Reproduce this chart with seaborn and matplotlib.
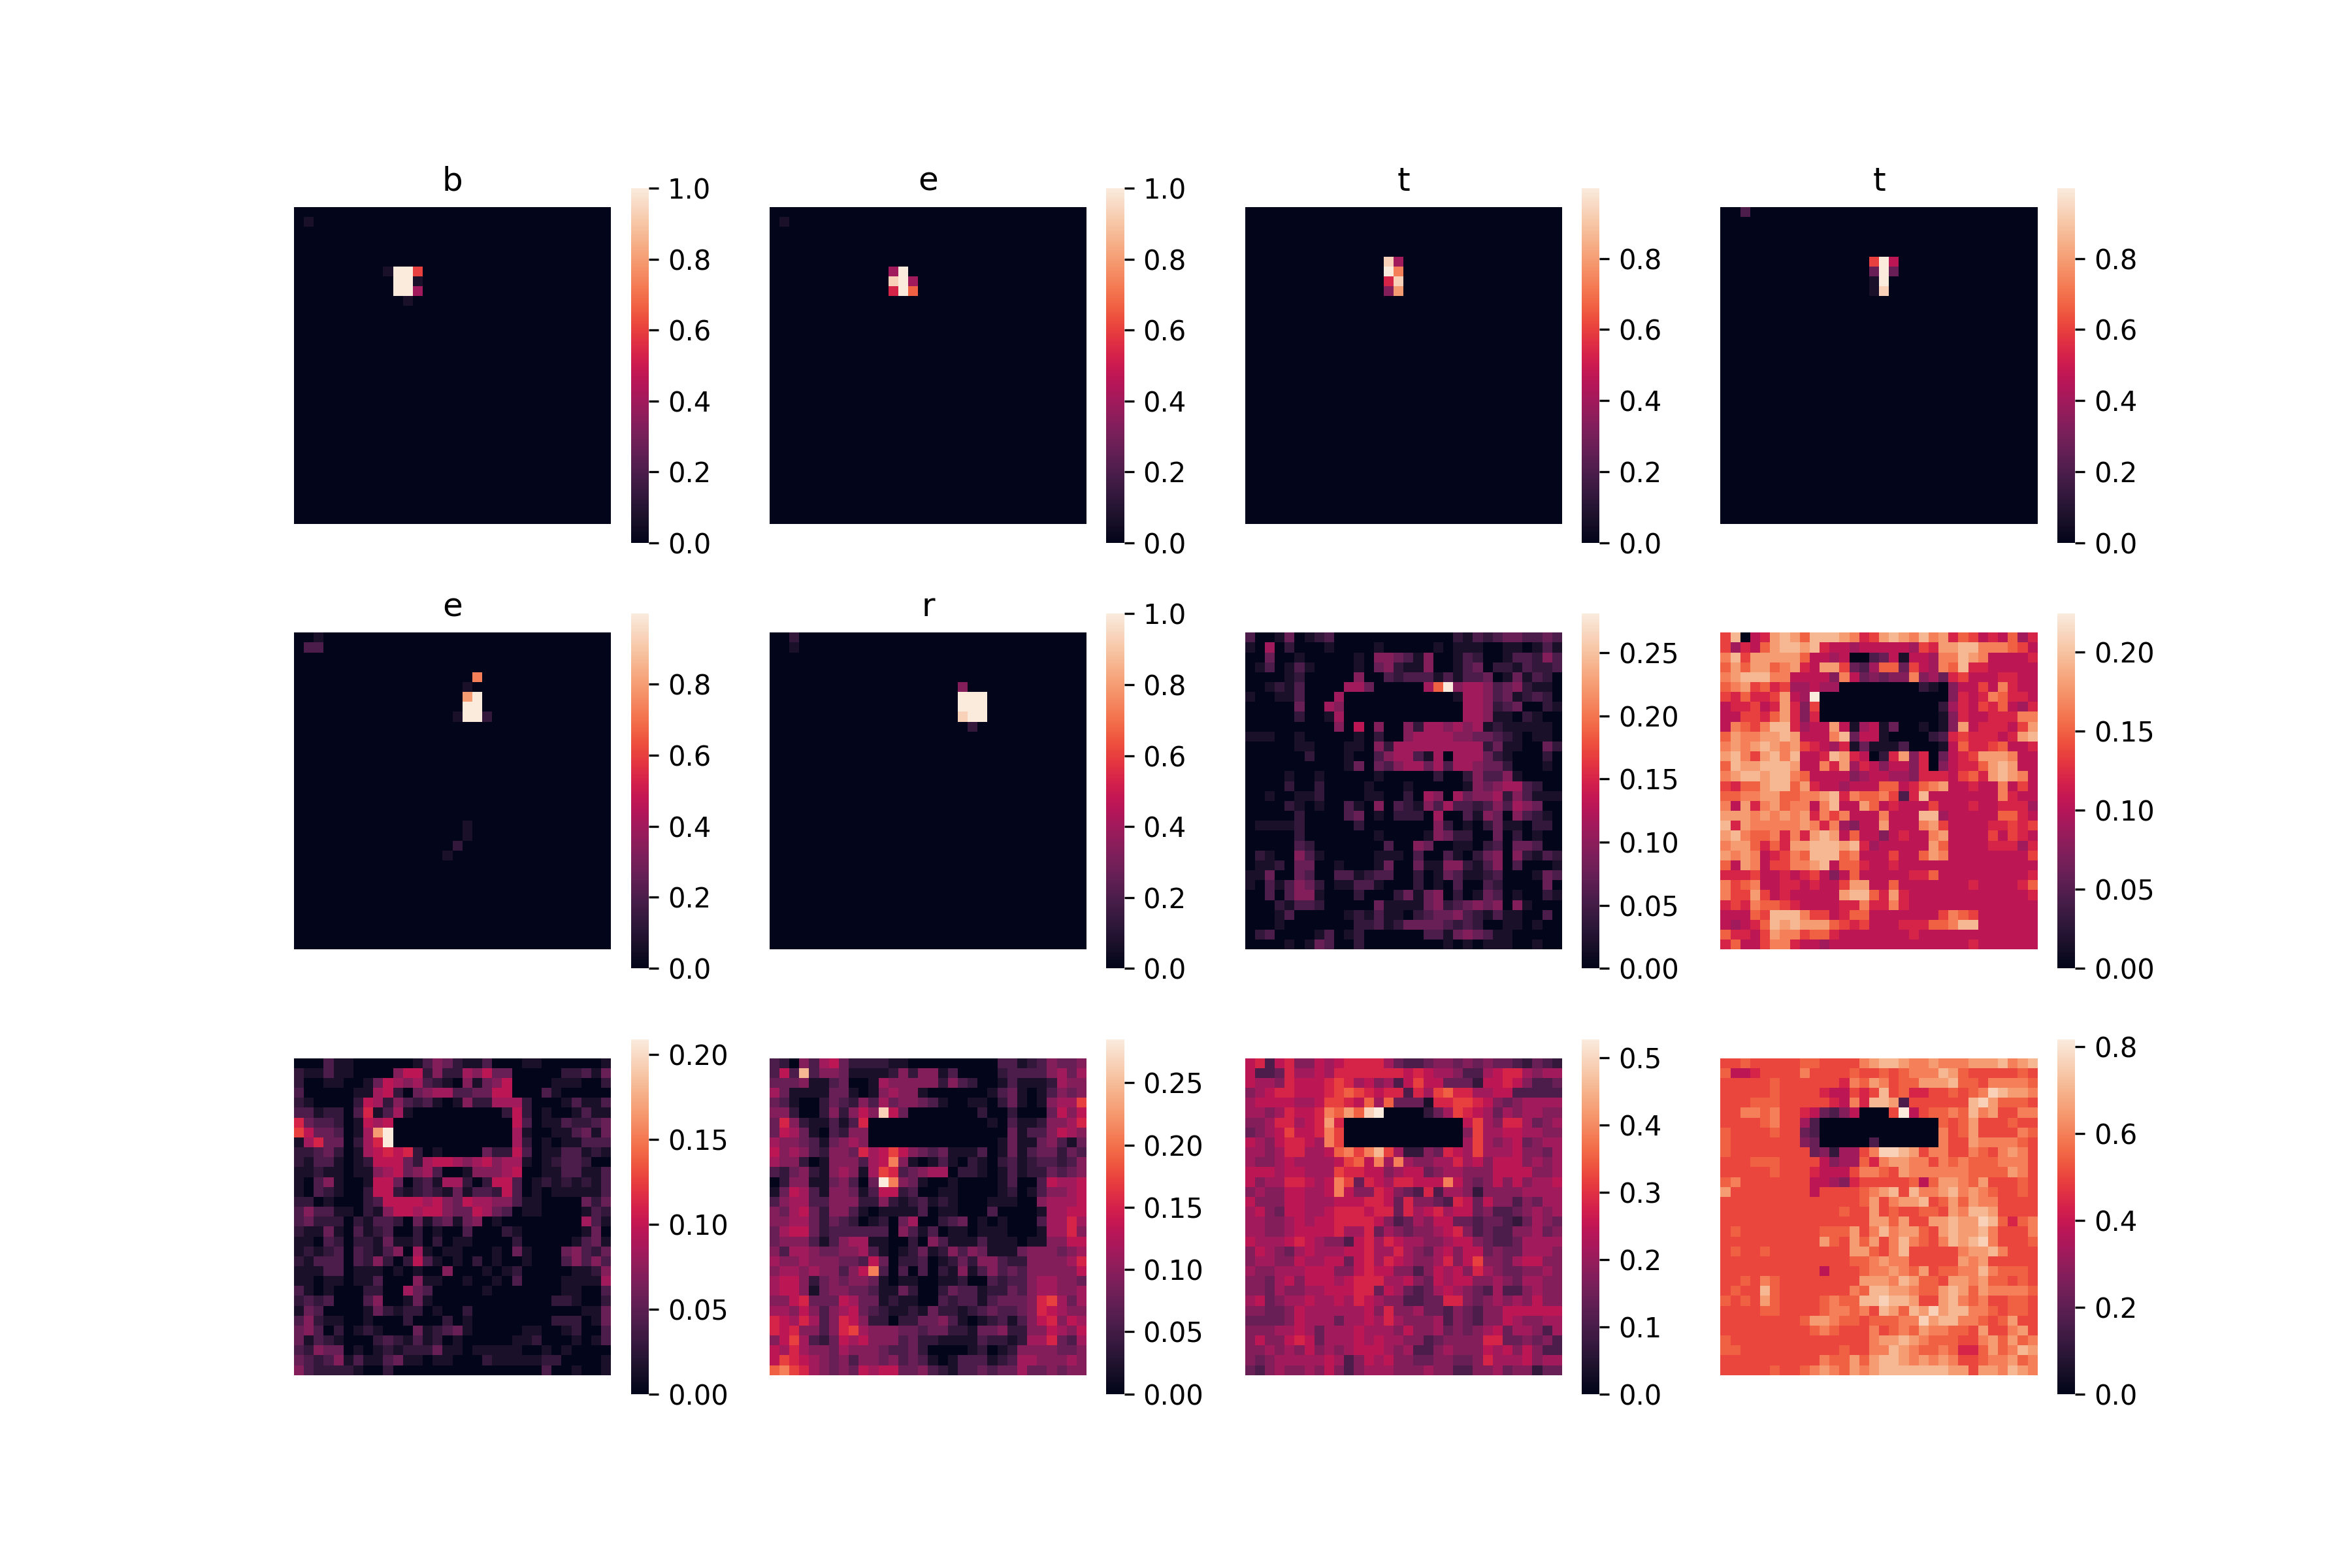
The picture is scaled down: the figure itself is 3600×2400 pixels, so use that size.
import matplotlib
matplotlib.use('Agg')
import matplotlib.pyplot as plt
import numpy as np
import seaborn as sns

# each map is 32x32. one hex digit per cell, 0 to f, as a share of that map's peak
blank = '0000 0000 0000 0000 0000 0000 0000 0000'

map_1 = [blank] + ['0100 0000 0000 0000 0000 0000 0000 0000'] + [blank] * 4 + [
    '0000 0000 01ff 9000 0000 0000 0000 0000',
    '0000 0000 00ff 1000 0000 0000 0000 0000',
    '0000 0000 00ff 6000 0000 0000 0000 0000',
    '0000 0000 0001 0000 0000 0000 0000 0000',
] + [blank] * 22

map_2 = [blank] + ['0100 0000 0000 0000 0000 0000 0000 0000'] + [blank] * 4 + [
    '0000 0000 0000 6f00 0000 0000 0000 0000',
    '0000 0000 0000 ef60 0000 0000 0000 0000',
    '0000 0000 0000 8fa0 0000 0000 0000 0000',
] + [blank] * 23

map_3 = [blank] * 5 + [
    '0000 0000 0000 00e6 0000 0000 0000 0000',
    '0000 0000 0000 00fb 0000 0000 0000 0000',
    '0000 0000 0000 008e 0000 0000 0000 0000',
    '0000 0000 0000 005c 0000 0000 0000 0000',
] + [blank] * 23

map_4 = ['0030 0000 0000 0000 0000 0000 0000 0000'] + [blank] * 4 + [
    '0000 0000 0000 0009 f700 0000 0000 0000',
    '0000 0000 0000 0004 f400 0000 0000 0000',
    '0000 0000 0000 0001 f000 0000 0000 0000',
    '0000 0000 0000 0001 e000 0000 0000 0000',
] + [blank] * 23

map_5 = [
    '0010 0000 0000 0000 0000 0000 0000 0000',
    '0330 0000 0000 0000 0000 0000 0000 0000',
] + [blank] * 2 + [
    '0000 0000 0000 0000 00b0 0000 0000 0000',
    '0000 0000 0000 0000 0100 0000 0000 0000',
    '0000 0000 0000 0000 0cf0 0000 0000 0000',
    '0000 0000 0000 0000 0ff0 0000 0000 0000',
    '0000 0000 0000 0000 1ff2 0000 0000 0000',
] + [blank] * 10 + [
    '0000 0000 0000 0000 0100 0000 0000 0000',
    '0000 0000 0000 0000 0100 0000 0000 0000',
    '0000 0000 0000 0000 2000 0000 0000 0000',
    '0000 0000 0000 0001 0000 0000 0000 0000',
] + [blank] * 9

map_6 = [
    '0020 0000 0000 0000 0000 0000 0000 0000',
    '0010 0000 0000 0000 0000 0000 0000 0000',
] + [blank] * 3 + [
    '0000 0000 0000 0000 0005 0000 0000 0000',
    '0000 0000 0000 0000 000f ff00 0000 0000',
    '0000 0000 0000 0000 000f ff00 0000 0000',
    '0000 0000 0000 0000 000e ff00 0000 0000',
    '0000 0000 0000 0000 0000 2000 0000 0000',
] + [blank] * 22

map_7 = [
    '3001 4012 3000 0000 0000 0213 2344 3343',
    '1060 2000 1000 0100 0001 0111 0011 0131',
    '0040 0100 0001 0554 3150 0132 0013 3253',
    '0130 1310 0001 0452 1150 0134 0221 3223',
    '0000 1200 0005 0032 3331 3133 4014 1320',
    '0012 1300 0066 4000 006a f566 5345 2110',
    '1001 1300 0600 0000 0000 0166 5341 2320',
    '0000 0400 6500 0000 0000 0066 5234 0021',
    '0000 0200 1600 0000 0000 0066 5110 2100',
    '0000 0000 0507 0500 5266 5656 1211 1110',
    '1110 0100 0001 0200 5666 6554 4321 0110',
    '0000 0110 0011 0526 6666 6666 2411 0042',
    '0000 0020 0010 0356 6316 0666 4210 0020',
    '0000 0000 0014 0435 6646 3665 4420 0010',
    '0000 1001 0000 0100 0002 0025 3351 0000',
    '0000 2002 0000 1000 1000 0015 4566 3200',
    '0010 0112 0000 1100 2065 0645 5625 3111',
    '0000 2101 0031 0503 2153 6332 3536 5400',
    '0000 0200 0034 0102 2206 0031 5405 3210',
    '0111 1200 0002 0000 0005 2010 2411 0220',
    '0000 0200 0000 0100 0015 4220 0402 0100',
    '0000 0320 0000 0030 0540 0110 2304 4300',
    '0210 0531 0000 0111 0300 3102 4505 2132',
    '0112 0440 0100 0140 0411 5521 3503 0001',
    '1140 0430 0331 2330 0201 4311 2300 0143',
    '1031 3542 0113 3100 0201 0300 3200 0040',
    '0030 3551 0002 0002 4145 0201 4301 0021',
    '0002 1332 0000 0411 1145 2345 4505 1000',
    '0001 3000 0012 1311 0234 4532 1311 0030',
    '0001 0000 0002 2312 4444 3232 0011 0100',
    '0230 0001 3012 0000 0033 1454 3110 0000',
    '0000 1014 3002 0000 0000 1010 1110 0100',
]

map_8 = [
    '9d07 8cdc addd cb89 cdcb dbc8 a978 7a68',
    '9687 acdd cd87 7677 7776 98cc ddbb ba97',
    'bd9c cccc a776 7003 4717 76bb dcb7 7778',
    'acac cabc 87cc 9436 aa49 76ba d887 7777',
    'bcdd dbb7 7775 b745 455b 5648 9777 8877',
    'abc9 a896 6766 0000 0000 2105 7797 b877',
    '98a8 89c7 6f00 0000 0000 0005 878b a887',
    '7889 78c8 5900 0000 0000 0026 8798 a768',
    '7799 8ac8 5800 0000 0000 0015 8778 88bb',
    '7ba9 bdd8 677c 7167 1400 1015 c788 879c',
    'acbb ccdc 777b d477 1000 0238 9888 78cd',
    'bcbc dcbc 9876 8141 1130 0017 a889 a778',
    'cdb9 cdbd 778d c870 28c5 8047 89cc cb77',
    'adcc dddc 77b8 c687 5775 8057 88ac dc77',
    'bcdd cddb a777 7567 7665 8887 9a8c dcb7',
    '98aa cdda c877 6777 aa78 abc7 7877 b797',
    'aabb ccaa bbcd 8baa b938 d777 7777 b877',
    'b7c8 bcab b7bd 77ca 7877 7977 7877 8886',
    'cccb cbcb c8b9 b777 b777 dd67 7777 aa87',
    'd8cb bbbb cb8b 6577 c777 bc97 7778 8989',
    'cdba ab8b 8cdc 7a77 5787 7bc7 7779 7987',
    'bcca 8a8c cddd cd86 7777 7ca7 7778 8868',
    'cbcb 789b addd ab77 7977 acb7 7777 7779',
    'a7cb 799b bcd7 aa87 7877 7777 7777 7777',
    '8889 7787 8975 7a77 7778 8a77 7777 7778',
    'b9ab 7788 7877 9cc7 7a77 7777 7877 778a',
    'b99c 9787 7777 cdda 8c87 7777 7777 7778',
    '898b aa98 7777 88b8 8b87 7777 7777 7777',
    '777a 9ddd b997 8aa7 7777 779b a977 7777',
    '7678 adcd ccca 9897 7788 8aab dd77 7777',
    'a887 9cbb 9aa8 7777 7778 7777 7777 7777',
    '8a77 9bb8 7767 7777 7777 7777 7877 7777',
]

map_9 = [
    '0003 1100 0000 1354 2113 0001 1000 0001',
    '2113 1100 0057 7252 2657 4400 0002 2314',
    '2001 1001 4765 6321 0514 5700 0011 1002',
    '3000 0011 6720 4566 3344 7700 0310 0000',
    '2100 0027 6253 2310 1522 6662 0001 3113',
    '3312 2038 1361 0000 0000 0272 0100 1311',
    '8433 2017 6700 0000 0000 0073 0113 2234',
    '9744 3016 cf00 0000 0000 0061 0011 3414',
    '1684 4026 8f00 0000 0000 0062 0101 1333',
    '2234 2016 7878 2010 0004 2273 0113 3121',
    '2133 1012 7774 2677 6567 5661 0123 3200',
    '1121 1011 5674 5630 0155 5670 0113 3113',
    '1035 1001 7740 2316 6202 7730 1212 1213',
    '1032 1002 7721 2321 4133 2730 1011 1113',
    '2201 0002 3777 7675 4766 5531 1000 0424',
    '3533 1102 1577 6775 4476 4301 1000 0132',
    '3422 2021 3320 4134 1450 1000 0000 0631',
    '2114 1031 2300 2010 0300 0210 0000 0140',
    '1103 2022 1411 2020 1100 0020 0000 1341',
    '1212 3032 1350 6101 1000 1041 0004 5324',
    '2133 3032 5202 7310 1020 1001 0003 5353',
    '1113 3011 1010 1005 0001 0120 0000 1125',
    '1101 1011 3000 5110 0100 1030 0001 1116',
    '3101 0002 2006 4300 0001 0000 0001 1003',
    '2323 0003 5001 4100 0000 0000 0022 1002',
    '1430 0001 4212 2010 0200 0000 0000 0114',
    '3521 1001 0002 0002 0100 0000 0022 2014',
    '4530 2012 1000 4123 4100 0001 1001 2003',
    '4132 1000 2321 3120 1000 0011 2000 1013',
    '3254 4010 1212 2241 1011 1110 0101 0000',
    '4323 5131 1341 1011 0002 1111 1220 0001',
    '5322 2210 0200 0000 0000 0000 0300 1001',
]

map_10 = [
    '3205 3674 2222 1100 0000 0003 3123 5445',
    '373d 3554 1111 2525 5130 0002 3333 5646',
    '4445 1134 0016 5555 5253 2001 3111 2655',
    '6411 1144 1015 6551 0000 0013 4101 3545',
    '4310 0243 2536 4554 3100 1102 4101 5669',
    '5520 0252 575e 7400 0000 0200 2000 4757',
    '4852 1131 3800 0000 0000 0010 3112 5568',
    '4764 1032 5500 0000 0000 0000 4133 5765',
    '6554 3145 6500 0000 0000 0001 4114 5314',
    '7565 3255 4867 9754 3411 1301 4134 4243',
    '6552 0155 5367 b510 1310 2102 3123 3235',
    '3245 2156 5169 8345 6602 2101 3122 4345',
    '0255 1145 304f b541 0010 0001 3003 7667',
    '1476 3155 4137 7230 0110 0001 2013 5567',
    '3566 3355 5225 2123 1210 0011 1005 6667',
    '5467 4255 3101 1113 0110 0030 0001 6677',
    '5566 4243 2012 0460 0234 0101 0003 6686',
    '4677 4233 3333 0531 3011 0111 0001 6685',
    '4555 3135 6611 0020 5311 1311 1011 5577',
    '5366 5445 5631 0124 1253 5411 1455 5456',
    '6556 5554 4374 0223 0124 2553 2255 5568',
    '5665 6553 57b3 0303 0215 1353 4355 5557',
    '6775 2454 5541 0110 0112 0032 3356 6554',
    '6775 1455 4431 1420 0243 3122 4356 6556',
    '5578 4447 6441 2110 0323 3134 4458 9646',
    '6657 5356 7432 1121 4221 2343 3458 7655',
    '8768 6358 7522 0224 4531 0123 1357 8576',
    '8785 5358 9655 5443 4422 1445 2255 7657',
    '5796 3247 6755 5342 2111 1322 1266 8436',
    '7686 5546 5554 3342 0000 1201 2555 5445',
    '7987 6545 3554 5343 1013 3312 3665 5565',
    'ab98 6545 4767 7445 3213 3434 4644 5455',
]

map_11 = [
    '7837 8557 6788 8864 3345 5454 5443 2432',
    '7334 8667 6888 8888 7876 6533 6788 6566',
    '7665 8777 8986 7563 7977 4442 7787 5334',
    '5678 8777 89a9 8788 3869 a886 6773 3333',
    '6777 7667 9987 a6a4 4418 8998 7545 6666',
    '6656 8778 baca ef00 0024 6987 6465 6655',
    '5568 8678 c800 0000 0000 0079 6588 6456',
    '4567 9778 b900 0000 0000 0059 6677 6655',
    '7657 8876 b900 0000 0000 0069 6567 4566',
    '6656 8866 7ab9 bd96 2254 8769 6667 5546',
    '6556 7666 679a 7b6b 6556 6867 5777 5656',
    '7776 7766 6988 7756 7745 6655 5777 7556',
    '7566 8876 7b94 8768 8777 b754 5757 5667',
    '5655 7766 7b75 5875 4383 6652 5555 6666',
    '7555 7766 6777 8874 8554 3874 7553 5466',
    '6754 7766 7888 7884 8678 6774 5334 5656',
    '6655 6767 7888 8753 4657 7443 4432 4654',
    '6655 6777 7866 8465 4556 7853 4335 5645',
    '7666 7876 5537 8687 6655 6775 4334 6666',
    '5765 4676 6677 8668 6546 7577 4544 6665',
    '5665 5766 7747 8687 6556 8579 5546 7755',
    '6556 6677 7557 8775 5357 6758 6544 5565',
    '5546 7577 7678 8866 7547 6775 5654 6655',
    '5546 5566 7778 8476 4346 7654 3633 5655',
    '6745 6676 6768 7655 3344 8854 5656 5755',
    '5544 5766 6666 7585 5644 3543 5577 7777',
    '4444 5766 6466 7686 5556 3543 5576 5566',
    '5556 6764 6667 6665 7556 4545 6746 6536',
    '5755 7874 6667 6766 5534 5555 8844 5453',
    '5565 6575 6567 7765 6335 6555 7675 7533',
    '5456 6666 7635 7675 5445 5445 8666 7566',
    '4356 5565 7535 6665 5565 5335 5645 5244',
]

map_12 = [
    '99a9 9999 aa99 99bc ddcb bcbb bccc dbcd',
    'a778 9999 b999 9a99 a9ab bbdc a999 99a9',
    '9999 9a99 9999 8bac b9aa cccd aa9b bbba',
    '9999 9a99 9987 7989 d9a8 899a 9abe dccb',
    '999a aa99 9998 7b8d dc39 9999 9dec aaa9',
    '99bb ab99 8743 5700 09f7 9aab adbc 99bb',
    '9999 ab99 6300 0000 0000 00a9 ac99 9a99',
    'a999 9a99 4300 0000 0000 00b9 ac99 99ba',
    'a999 9999 5400 0003 0000 00b9 9cbb bba9',
    'a999 9999 9452 669b eedc 9bb9 9ba9 bcb9',
    '999a aa99 9975 66a8 bccb b9ba baaa bbb9',
    '9999 9a99 9877 79bb a9cb bbbb baaa acb9',
    'ab99 9999 9776 5899 999a 7acc bac9 99a9',
    'c999 9999 9799 99ab cd9d bbcd bcba 99a9',
    '9999 9999 9999 99ac 9bcc d9ac acbb 9999',
    '9999 9999 9999 a99c 9a99 aa9c bddc 9999',
    '9999 9999 9999 999c cac9 9ccd cced a8ab',
    '9a99 9999 99aa ac9b dbcc a9cd ccdb 999b',
    '9999 9999 99ca 9cac 9bdb a9bd cdeb 999a',
    '9a99 a999 9999 9cca 9bd9 9999 bccd b999',
    '9999 9999 9999 9aab cbb9 9999 cbc9 9999',
    '9999 9999 9979 99ab bcba c9aa bbdb aaa9',
    '99a9 ba99 9999 99cc cbdc aa9c cbca a9a9',
    '9a99 da99 9999 9bad dccb aacd cacb bbba',
    'a9a9 ca99 99ab aadd eddc 99cd bab9 9aa9',
    '9999 aa99 99ab bab9 dcad cecd dbba 9aa9',
    '9999 9999 accb aa9a aabb ecdd bba9 ac99',
    '9999 9999 9aba 999b 9aba cbba a9c9 9bc9',
    'a999 9999 9999 999b ccdc baaa 99bc acab',
    'aa99 9999 9999 a99b bdcb aaba 88ac abdc',
    '9999 9999 99ba acac ddcb cbcb 99ab bcab',
    '9999 9a99 abcb acbc dddd dddc c9cc bdcb',
]

maps = [map_1, map_2, map_3, map_4, map_5, map_6,
        map_7, map_8, map_9, map_10, map_11, map_12]
peaks = [1.0, 1.0, 0.998, 0.998, 0.998, 1.0,
         0.281, 0.224, 0.209, 0.285, 0.527, 0.817]
# what digit 9 stands for in each map; the flat background of the last one sits a bit higher
nines = [9, 9, 9, 9, 9, 9, 9, 9, 9, 9, 9, 9.25]
titles = ['b', 'e', 't', 't', 'e', 'r', '', '', '', '', '', '']


def to_values(rows, peak, nine):
    cells = [[int(c, 16) for c in row.replace(' ', '')] for row in rows]
    cells = np.array(cells, dtype=float)
    cells[cells == 9] = nine
    return cells / 15 * peak


fig, axes = plt.subplots(3, 4, figsize=(12, 8))
plt.subplots_adjust(bottom=0.111)

for ax, rows, peak, nine, title in zip(axes.flat, maps, peaks, nines, titles):
    sns.heatmap(to_values(rows, peak, nine), ax=ax, square=True,
                xticklabels=False, yticklabels=False)
    if title:
        ax.set_title(title)

plt.savefig('out.png', dpi=300)
